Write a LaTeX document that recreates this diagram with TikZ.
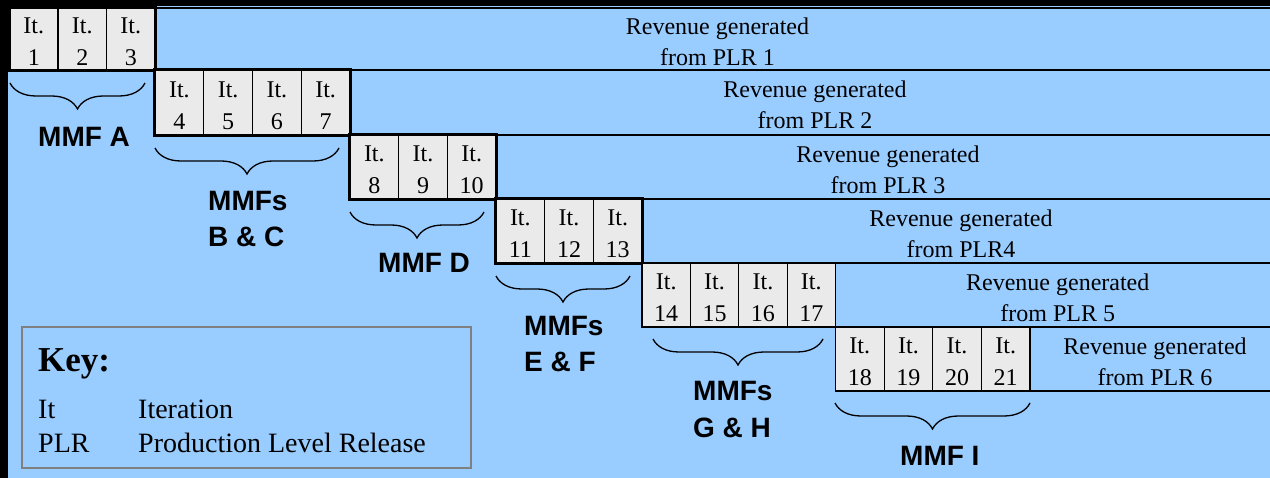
\documentclass[tikz,border=0pt]{standalone}
\usepackage{fontspec}
\setmainfont{Liberation Serif}
\newfontfamily\labelsans{Liberation Sans}
\usetikzlibrary{decorations.pathreplacing}
\definecolor{skyfill}{HTML}{99CCFF}
\definecolor{cellfill}{HTML}{EAEAEA}
\definecolor{keyline}{HTML}{808080}

\begin{document}
\begin{tikzpicture}[x=1pt,y=-1pt,
  cell/.style={draw=black, line width=1.2pt, fill=cellfill, inner sep=0pt,
    align=center, font=\fontsize{24}{32}\selectfont},
  revbox/.style={draw=black, line width=1.5pt, inner sep=0pt,
    align=center, font=\fontsize{24}{31}\selectfont},
  groupframe/.style={draw=black, line width=3.6pt},
  mmf/.style={anchor=base west, inner sep=0pt, align=left,
    font=\labelsans\bfseries\fontsize{28}{36}\selectfont},
  mmfbrace/.style={decorate, decoration={brace, mirror, amplitude=26pt},
    line width=1.3pt},
  keytext/.style={anchor=base west, inner sep=0pt, font=\fontsize{28}{34}\selectfont},
]
\useasboundingbox (0,0) rectangle (1270,478);
\clip (0,0) rectangle (1270,478);

% background and dark edges
\fill[skyfill] (0,0) rectangle (1270,478);
\fill[black] (0,0) rectangle (1270,6);
\fill[black] (0,0) rectangle (8,478);

% a strut that lowers the two-line text a little inside its box
\newcommand\lowerstrut{\rule{0pt}{21.5pt}}

% one row per release: iterations followed by the revenue band
\foreach \xa/\xb/\ya/\yb/\n/\k/\lab [count=\r] in {
    9.5/155/8/70/3/1/PLR 1,
    155/350/70/135/4/4/PLR 2,
    350/496/135/199/3/8/PLR 3,
    496/642/199/263/3/11/PLR4,
    642/835.5/263/327/4/14/PLR 5,
    835.5/1030/327/391/4/18/PLR 6}{
  \pgfmathsetmacro\w{(\xb-\xa)/\n}
  \pgfmathsetmacro\h{\yb-\ya}
  \pgfmathsetmacro\cy{(\ya+\yb)/2}
  \pgfmathsetmacro\rw{1280-\xb}
  \pgfmathsetmacro\rx{(\xb+1280)/2}
  \node[revbox, minimum width=\rw pt, minimum height=\h pt] (rev\r) at (\rx,\cy)
    {\lowerstrut Revenue generated\\from \lab};
  \foreach \i in {1,...,\n}{
    \pgfmathtruncatemacro\num{\k+\i-1}
    \pgfmathsetmacro\cx{\xa+(\i-0.5)*\w}
    \node[cell, minimum width=\w pt, minimum height=\h pt] (it\num) at (\cx,\cy)
      {\lowerstrut It.\\\num};
  }
  \ifnum\r<5
    \pgfmathtruncatemacro\last{\k+\n-1}
    \draw[groupframe] (it\k.north west) rectangle (it\last.south east);
  \fi
}

% braces grouping iterations into MMFs
\foreach \name/\xa/\xb/\yy in {bA/10/145/83, bBC/155/339/148, bD/350/484/212,
    bEF/496/630/276, bGH/653/823/339, bI/835/1030/403}{
  \coordinate (\name-l) at (\xa,\yy);
  \coordinate (\name-r) at (\xb,\yy);
  \draw[mmfbrace] (\name-l) -- (\name-r);
}

% MMF labels (two-line labels sit on the baseline of their last line)
\node[mmf] (mmfA) at (38,147) {MMF A};
\node[mmf] (mmfBC) at (208,247) {MMFs\\B \& C};
\node[mmf] (mmfD) at (378,273) {MMF D};
\node[mmf] (mmfEF) at (524,372) {MMFs\\E \& F};
\node[mmf] (mmfGH) at (693,437) {MMFs\\G \& H};
\node[mmf] (mmfI) at (900,465) {MMF I};

% key
\node[draw=keyline, line width=1.2pt, minimum width=449pt, minimum height=141pt,
  inner sep=0pt] (key) at (246.5,397.5) {};
\node[anchor=base west, inner sep=0pt, font=\bfseries\fontsize{35}{40}\selectfont]
  (keytitle) at (38,372) {Key:};
\node[keytext] (keyIt) at (38,418) {It};
\node[keytext] (keyItD) at (138,418) {Iteration};
\node[keytext] (keyPLR) at (38,453) {PLR};
\node[keytext] (keyPLRD) at (138,453) {Production Level Release};
\end{tikzpicture}
\end{document}
